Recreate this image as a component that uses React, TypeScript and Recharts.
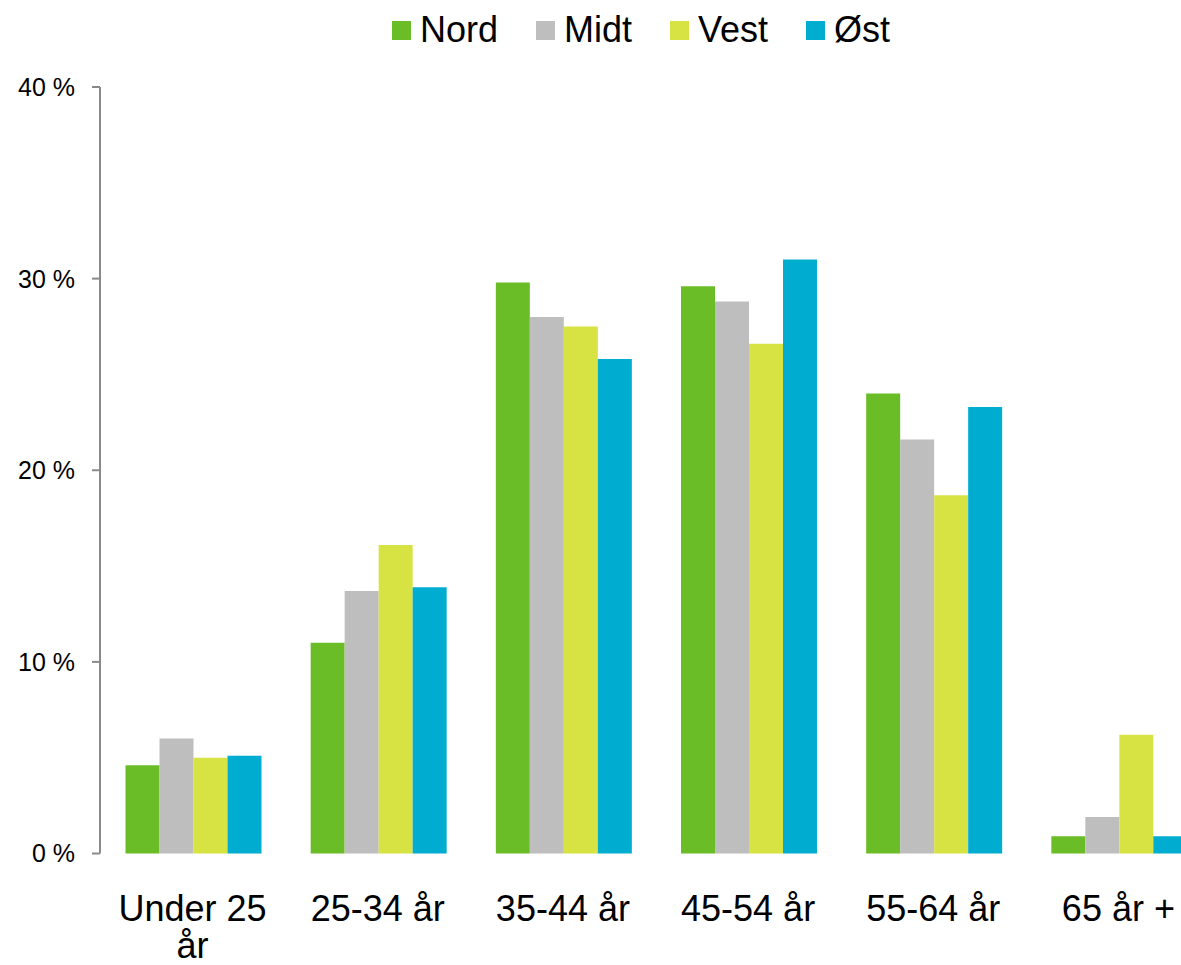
import { BarChart, Bar, XAxis, YAxis } from "recharts";

const categories = ["Under 25 år", "25-34 år", "35-44 år", "45-54 år", "55-64 år", "65 år +"];
const nord = [4.6, 11.0, 29.8, 29.6, 24.0, 0.9];
const midt = [6.0, 13.7, 28.0, 28.8, 21.6, 1.9];
const vest = [5.0, 16.1, 27.5, 26.6, 18.7, 6.2];
const ost = [5.1, 13.9, 25.8, 31.0, 23.3, 0.9];
const yTicks = [0, 10, 20, 30, 40];

const series = [
  { key: "nord", name: "Nord", color: "#6BBD28" },
  { key: "midt", name: "Midt", color: "#BEBEBE" },
  { key: "vest", name: "Vest", color: "#D7E243" },
  { key: "ost", name: "Øst", color: "#00ADD0" },
];

const data = categories.map((c, i) => ({
  category: c,
  nord: nord[i],
  midt: midt[i],
  vest: vest[i],
  ost: ost[i],
}));

const FONT = "'Liberation Sans', Arial, sans-serif";
const X_FONT_SIZE = 36;
const X_LABEL_WIDTH = 170;

let ctx: CanvasRenderingContext2D | null = null;
function measure(s: string) {
  if (!ctx) {
    ctx = document.createElement("canvas").getContext("2d");
    if (ctx) ctx.font = `${X_FONT_SIZE}px ${FONT}`;
  }
  return ctx ? ctx.measureText(s).width : s.length * X_FONT_SIZE * 0.55;
}

// greedy word wrap so "Under 25 år" breaks like in the original
function wrap(label: string) {
  const lines: string[] = [];
  let cur = "";
  for (const w of label.split(" ")) {
    const next = cur ? `${cur} ${w}` : w;
    if (cur && measure(next) > X_LABEL_WIDTH) {
      lines.push(cur);
      cur = w;
    } else cur = next;
  }
  if (cur) lines.push(cur);
  return lines;
}

function XTick({ x, y, payload }: any) {
  const lines = wrap(String(payload.value));
  return (
    <text x={x} y={y} textAnchor="middle" fill="#000" fontSize={X_FONT_SIZE} fontFamily={FONT}>
      {lines.map((l, i) => (
        <tspan key={i} x={x} dy={i === 0 ? "0.71em" : 37}>
          {l}
        </tspan>
      ))}
    </text>
  );
}

export default function App() {
  return (
    <div
      style={{
        position: "absolute",
        left: 0,
        top: 0,
        width: 1181,
        height: 965,
        overflow: "hidden",
        background: "#fff",
        fontFamily: FONT,
      }}
    >
      {/* legend */}
      <div
        style={{
          position: "absolute",
          left: 392,
          top: 9,
          display: "flex",
          alignItems: "center",
          fontSize: 36,
          color: "#000",
          whiteSpace: "nowrap",
        }}
      >
        {series.map((s, i) => (
          <div
            key={s.key}
            style={{ display: "flex", alignItems: "center", marginRight: i < series.length - 1 ? 38 : 0 }}
          >
            <span style={{ width: 19, height: 19, background: s.color, marginRight: 9, display: "inline-block" }} />
            <span>{s.name}</span>
          </div>
        ))}
      </div>

      <BarChart
        width={1214}
        height={965}
        data={data}
        margin={{ top: 87, right: 3, bottom: 0, left: 0 }}
        barGap={0}
        barCategoryGap={25.5}
      >
        <XAxis
          dataKey="category"
          axisLine={false}
          tickLine={false}
          tickSize={0}
          tickMargin={42}
          height={111.5}
          interval={0}
          tick={<XTick />}
        />
        <YAxis
          width={100}
          domain={[0, 40]}
          ticks={yTicks}
          tickFormatter={(v: number) => `${v} %`}
          axisLine={{ stroke: "#8A8A8A", strokeWidth: 2 }}
          tickLine={{ stroke: "#8A8A8A", strokeWidth: 2 }}
          tickSize={8}
          tickMargin={17}
          tick={{ fontSize: 25, fill: "#000", fontFamily: FONT }}
        />
        {series.map((s) => (
          <Bar key={s.key} dataKey={s.key} name={s.name} fill={s.color} isAnimationActive={false} />
        ))}
      </BarChart>
    </div>
  );
}
